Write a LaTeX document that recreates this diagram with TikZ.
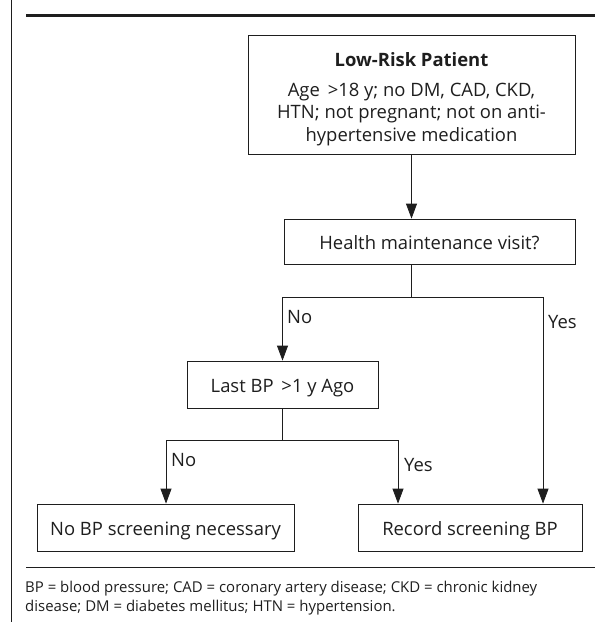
\documentclass[tikz,border=0pt]{standalone}
\usepackage{fontspec}
\setmainfont{Open Sans}
\usetikzlibrary{arrows.meta,calc}
\definecolor{ink}{RGB}{30,30,30}
\begin{document}
\begin{tikzpicture}[x=1bp,y=-1bp,color=ink,
  box/.style={draw,line width=0.8bp,inner sep=0pt,text height=15bp,text depth=0bp,font=\fontsize{18.5}{22.5}\selectfont},
  arr/.style={line width=0.8bp,-{Triangle[length=15bp,width=11bp]}},
  ln/.style={line width=0.8bp},
  txt/.style={font=\fontsize{18.5}{22.5}\selectfont,inner sep=0pt,anchor=base},
  lbl/.style={font=\fontsize{18.5}{22}\selectfont,inner sep=0pt,anchor=west},
  foot/.style={font=\fontsize{15}{19}\selectfont,inner sep=0pt,anchor=base west}]
\useasboundingbox (0,0) rectangle (595,625);
\begin{scope}
\clip (0,0) rectangle (595,625);
\node[anchor=base west,inner sep=0pt,font=\fontsize{26}{30}\selectfont\bfseries] (title) at (30,-10) {Figure 1.\hspace{39bp} Hypertension screening};
\end{scope}
\draw[line width=0.8bp] (11,0) -- (11,622);
\draw[line width=3.3bp] (26,15.7) -- (595,15.7);
\draw[line width=0.8bp] (26,567) -- (595,567);

\node[box,minimum width=327bp,minimum height=119bp] (top) at (411.5,94.5) {};
\node[txt,font=\fontsize{18.5}{22.5}\selectfont\bfseries] (toptitle) at (411.5,66.5) {Low-Risk Patient};
\node[txt] (l1) at (411.5,96.5) {Age \,>18 y; no DM, CAD, CKD,};
\node[txt] (l2) at (411.5,119) {HTN; not pregnant; not on anti-};
\node[txt] (l3) at (411.5,141.5) {hypertensive medication};

\node[box,minimum width=291bp,minimum height=45bp] (health) at (429.5,241.5) {Health maintenance visit?};
\node[box,minimum width=191bp,minimum height=47bp] (last) at (282.5,384.5) {Last BP \,>1 y Ago};
\node[box,minimum width=257bp,minimum height=47bp] (nobp) at (165.5,527.5) {No BP screening necessary};
\node[box,minimum width=224bp,minimum height=47bp] (rec) at (470,527.5) {Record screening BP};

\coordinate (j1) at (411.5,297);
\coordinate (j2) at (282.5,440);
\draw[arr] (411.5,0 |- top.south) -- (411.5,0 |- health.north);
\draw[ln] (411.5,0 |- health.south) -- (j1);
\draw[arr] (j1) -| (last.north);
\draw[arr] (j1) -| (543,0 |- rec.north);
\draw[ln] (last.south) -- (j2);
\draw[arr] (j2) -| (166,0 |- nobp.north);
\draw[arr] (j2) -| (398,0 |- rec.north);

\node[lbl] (no1) at (287,317) {No};
\node[lbl] (yes1) at (548,322) {Yes};
\node[lbl] (no2) at (171,460) {No};
\node[lbl] (yes2) at (404,465) {Yes};

\node[foot] (f1) at (25,592) {BP = blood pressure; CAD = coronary artery disease; CKD = chronic kidney};
\node[foot] (f2) at (25,611.5) {disease; DM = diabetes mellitus; HTN = hypertension.};
\end{tikzpicture}
\end{document}
